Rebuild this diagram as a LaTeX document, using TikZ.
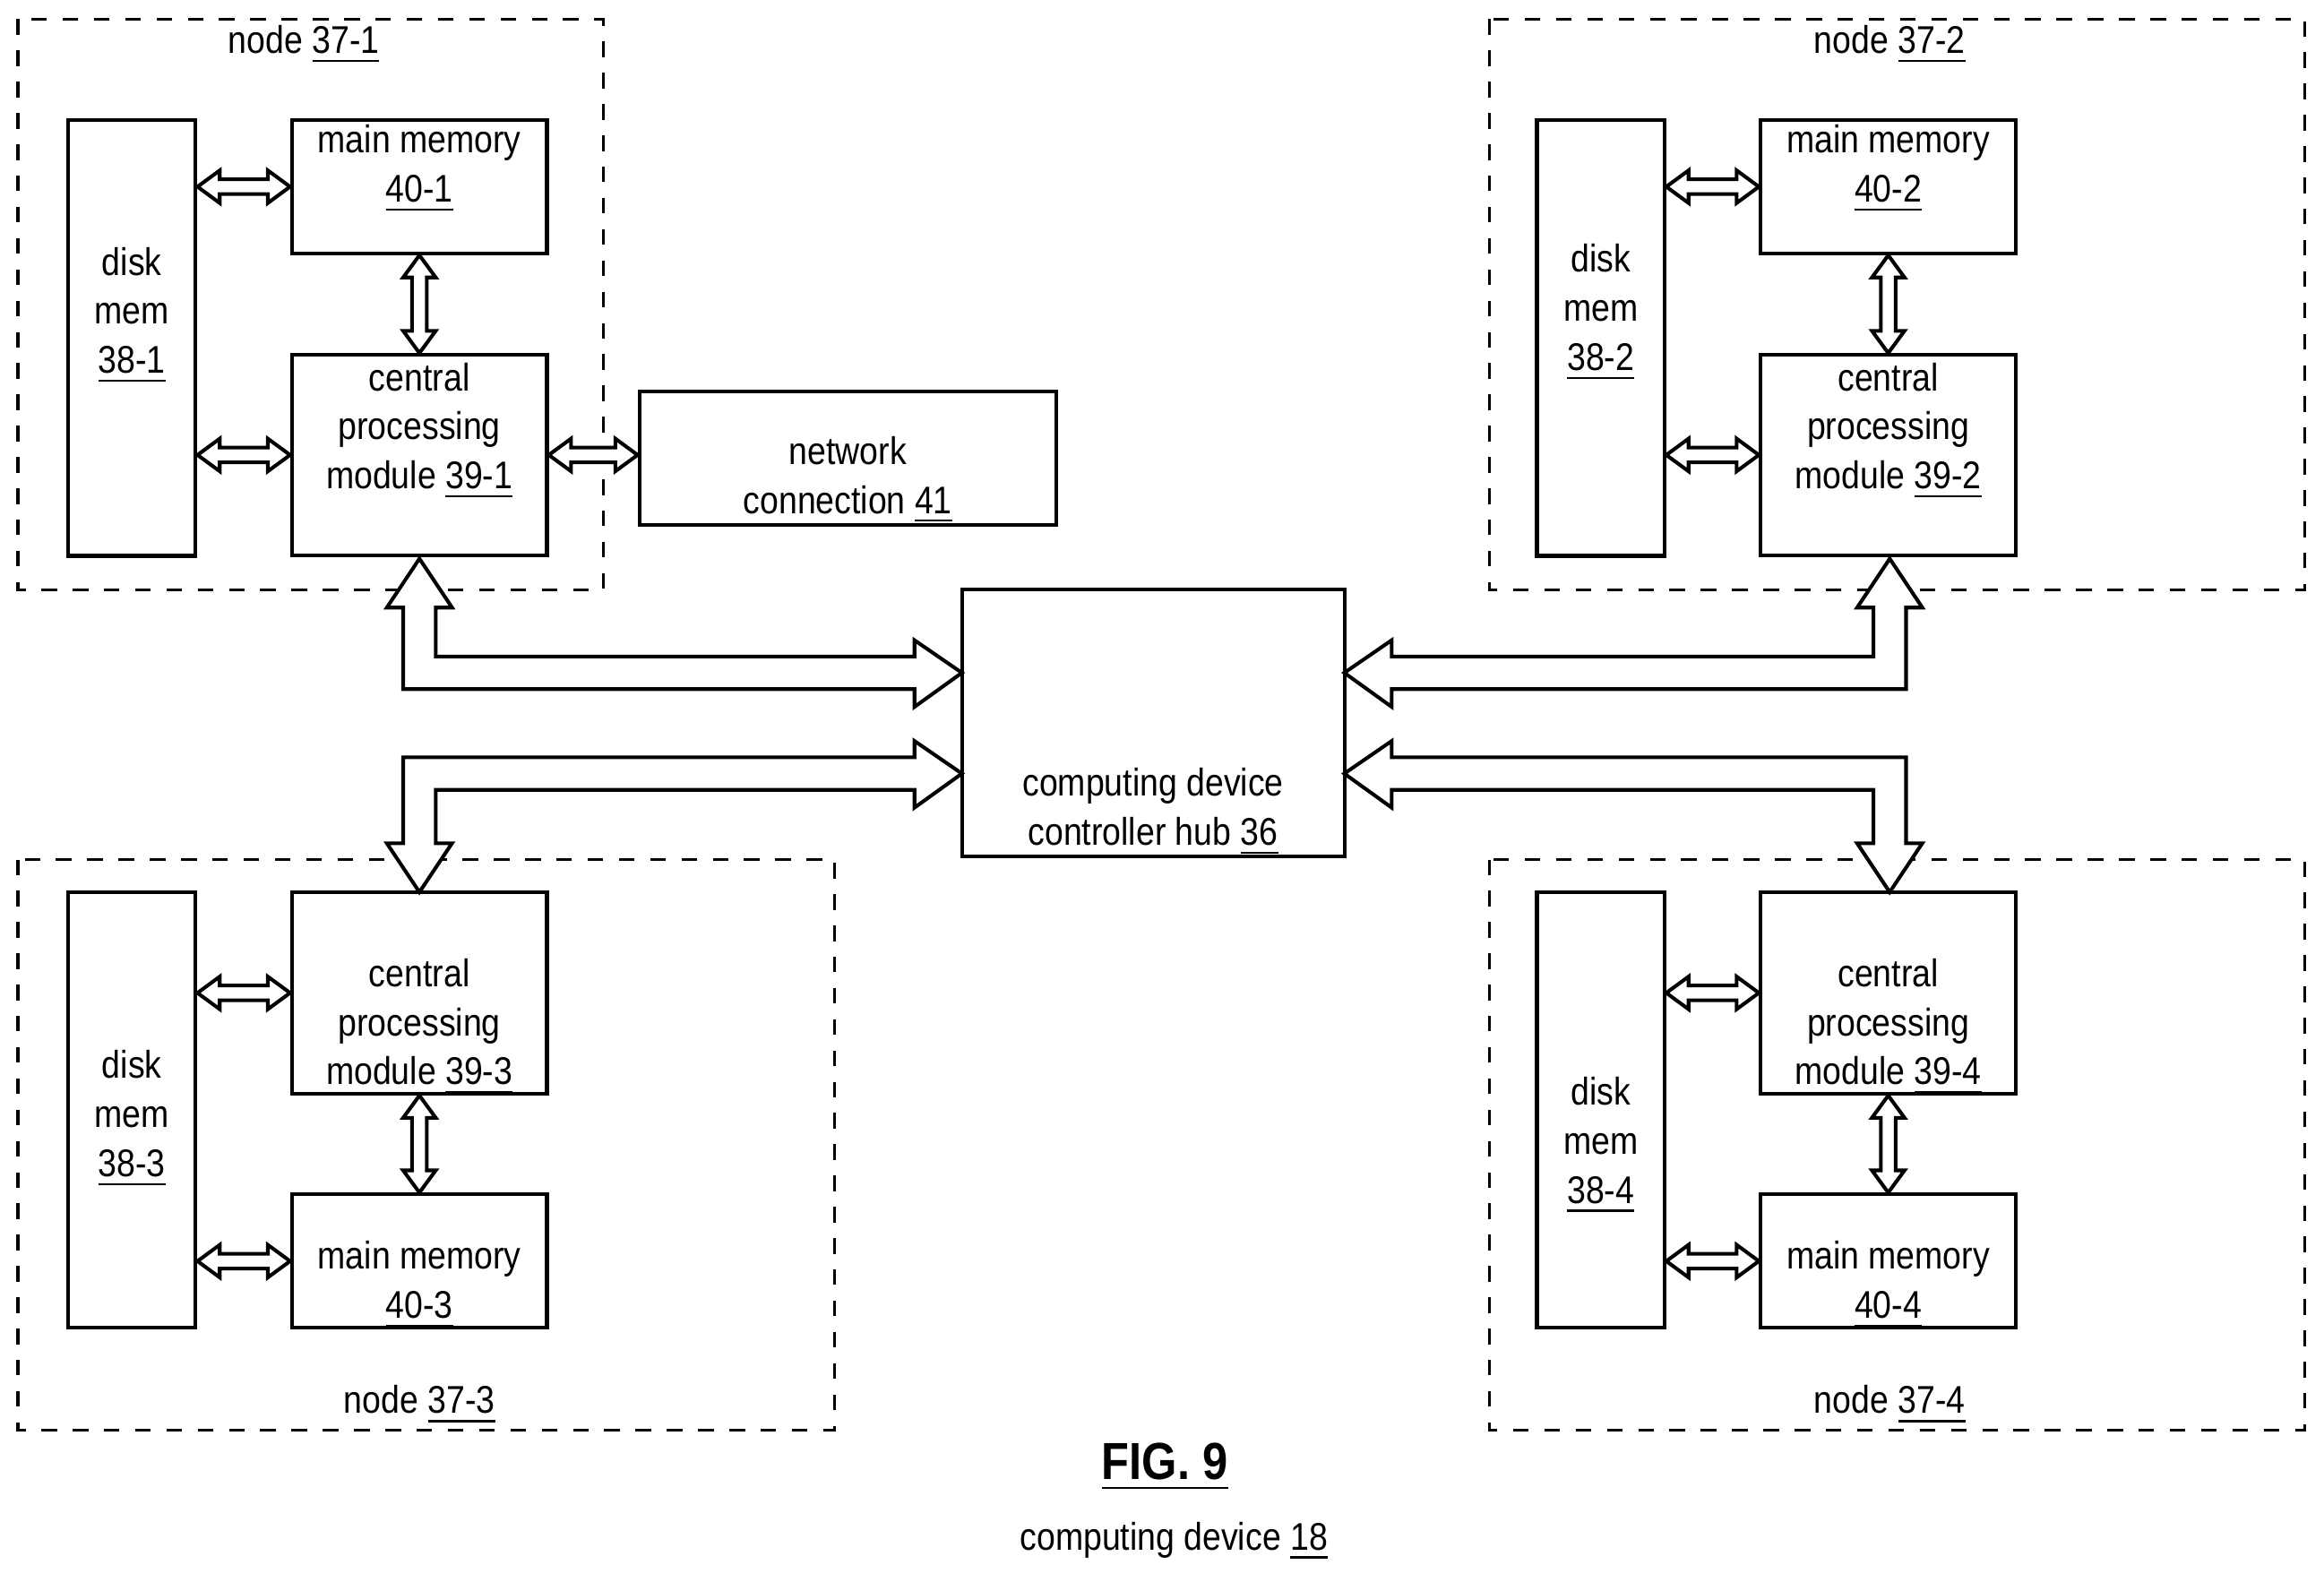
\documentclass[tikz,border=0pt]{standalone}
\usepackage{fontspec}
\setmainfont[FakeStretch=0.87]{Liberation Sans}
\usetikzlibrary{calc}

\begin{document}
\begin{tikzpicture}[x=0.01cm, y=-0.01cm,
  every node/.style={font=\fontsize{7.4}{9.4}\selectfont, align=center, inner sep=0pt},
  every label/.style={font=\fontsize{7.4}{9.4}\selectfont, align=center, inner sep=0pt},
  blk/.style={draw=black, line width=0.7pt},
  grp/.style={draw=black, dashed, line width=0.6pt},
  arr/.style={draw=black, fill=white, line width=0.7pt, line join=miter}]
\useasboundingbox (0,0) rectangle (1568,1067);

% small hollow arrows, both ends
\newcommand\harr[2]{\draw[arr] (#1) -- ([shift={(15,-11)}]#1) -- ([shift={(15,-5)}]#1) -- ([shift={(-15,-5)}]#2) -- ([shift={(-15,-11)}]#2) -- (#2) -- ([shift={(-15,11)}]#2) -- ([shift={(-15,5)}]#2) -- ([shift={(15,5)}]#1) -- ([shift={(15,11)}]#1) -- cycle;}
\newcommand\varr[2]{\draw[arr] (#1) -- ([shift={(11,15)}]#1) -- ([shift={(5,15)}]#1) -- ([shift={(5,-15)}]#2) -- ([shift={(11,-15)}]#2) -- (#2) -- ([shift={(-11,-15)}]#2) -- ([shift={(-5,-15)}]#2) -- ([shift={(-5,15)}]#1) -- ([shift={(-11,15)}]#1) -- cycle;}

% groups
\draw[grp] (12,13) rectangle (407,398);
\draw[grp] (1005,13) rectangle (1555,398);
\draw[grp] (12,580) rectangle (563,965);
\draw[grp] (1005,580) rectangle (1555,965);
\node (g1) at (205,30) {node \underline{37-1}};
\node (g2) at (1275,30) {node \underline{37-2}};
\node (g3) at (283,948) {node \underline{37-3}};
\node (g4) at (1275,948) {node \underline{37-4}};

% node 37-1
\node[blk, minimum width=0.86cm, minimum height=2.94cm, label={[yshift=0.15cm]center:{disk\\mem\\\underline{38-1}}}] (d1) at (89,228) {};
\node[blk, minimum width=1.72cm, minimum height=0.9cm, label={[yshift=0.12cm]center:{main memory\\\underline{40-1}}}] (m1) at (283,126) {};
\node[blk, minimum width=1.72cm, minimum height=1.35cm, label={[yshift=0.16cm]center:{central\\processing\\module \underline{39-1}}}] (c1) at (283,307) {};
\node[blk, minimum width=2.81cm, minimum height=0.9cm, label={[yshift=-0.15cm]center:{network\\connection \underline{41}}}] (n41) at (572,309) {};
% node 37-2
\node[blk, minimum width=0.86cm, minimum height=2.94cm, label={[yshift=0.17cm]center:{disk\\mem\\\underline{38-2}}}] (d2) at (1080,228) {};
\node[blk, minimum width=1.72cm, minimum height=0.9cm, label={[yshift=0.12cm]center:{main memory\\\underline{40-2}}}] (m2) at (1274,126) {};
\node[blk, minimum width=1.72cm, minimum height=1.35cm, label={[yshift=0.16cm]center:{central\\processing\\module \underline{39-2}}}] (c2) at (1274,307) {};
% node 37-3
\node[blk, minimum width=0.86cm, minimum height=2.94cm, label={[yshift=-0.06cm]center:{disk\\mem\\\underline{38-3}}}] (d3) at (89,749) {};
\node[blk, minimum width=1.72cm, minimum height=1.36cm, label={[yshift=-0.23cm]center:{central\\processing\\module \underline{39-3}}}] (c3) at (283,670) {};
\node[blk, minimum width=1.72cm, minimum height=0.9cm, label={[yshift=-0.16cm]center:{main memory\\\underline{40-3}}}] (m3) at (283,851) {};
% node 37-4
\node[blk, minimum width=0.86cm, minimum height=2.94cm, label={[yshift=-0.24cm]center:{disk\\mem\\\underline{38-4}}}] (d4) at (1080,749) {};
\node[blk, minimum width=1.72cm, minimum height=1.36cm, label={[yshift=-0.23cm]center:{central\\processing\\module \underline{39-4}}}] (c4) at (1274,670) {};
\node[blk, minimum width=1.72cm, minimum height=0.9cm, label={[yshift=-0.16cm]center:{main memory\\\underline{40-4}}}] (m4) at (1274,851) {};
% hub
\node[blk, minimum width=2.58cm, minimum height=1.8cm, label={[yshift=-0.6cm]center:{computing device\\controller hub \underline{36}}}] (hub) at (778,488) {};

% small links
\harr{d1.east|-m1}{m1.west}
\harr{d1.east|-c1}{c1.west}
\harr{c1.east}{c1.east-|n41.west}
\varr{m1.south}{c1.north}
\harr{d2.east|-m2}{m2.west}
\harr{d2.east|-c2}{c2.west}
\varr{m2.south}{c2.north}
\harr{d3.east|-c3}{c3.west}
\harr{d3.east|-m3}{m3.west}
\varr{c3.south}{m3.north}
\harr{d4.east|-c4}{c4.west}
\harr{d4.east|-m4}{m4.west}
\varr{c4.south}{m4.north}

% buses to the hub
\draw[arr] (283,377)--(305,410)--(294,410)--(294,443)--(617,443)--(617,432)--(649,454)--(617,477)--(617,465)--(272,465)--(272,410)--(261,410)--cycle;
\draw[arr] (1275,377)--(1297,410)--(1286,410)--(1286,465)--(939,465)--(939,477)--(907,454)--(939,432)--(939,443)--(1264,443)--(1264,410)--(1253,410)--cycle;
\draw[arr] (283,602)--(305,569)--(294,569)--(294,533)--(617,533)--(617,545)--(649,522)--(617,500)--(617,511)--(272,511)--(272,569)--(261,569)--cycle;
\draw[arr] (1275,602)--(1297,569)--(1286,569)--(1286,511)--(939,511)--(939,500)--(907,522)--(939,545)--(939,533)--(1264,533)--(1264,569)--(1253,569)--cycle;

\node[font=\fontsize{10}{12}\selectfont\bfseries] (fig) at (786,990) {\underline{FIG. 9}};
\node (dev) at (792,1040) {computing device \underline{18}};
\end{tikzpicture}
\end{document}
